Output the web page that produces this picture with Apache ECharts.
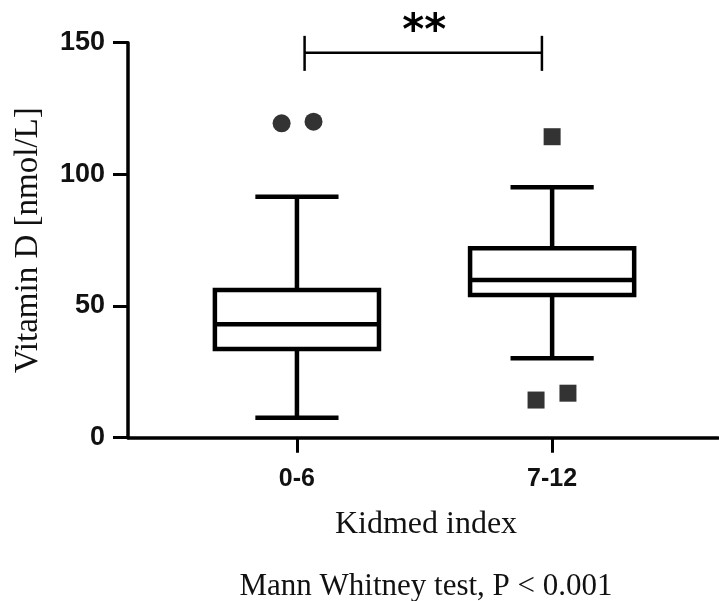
<!DOCTYPE html>
<html>
<head>
<meta charset="utf-8">
<script src="https://cdn.jsdelivr.net/npm/echarts@6/dist/echarts.min.js"></script>
<style>
html,body{margin:0;padding:0;background:#fff;}
#chart{width:719px;height:601px;}
</style>
</head>
<body>
<div id="chart"></div>
<script>
// ---- data ----
const categories = ['0-6', '7-12'];
const positions = [1, 2];
const whiskerLow = [7.6, 30.2];
const q1 = [33.7, 54.2];
const median = [43.1, 59.9];
const q3 = [56.1, 71.9];
const whiskerHigh = [91.5, 95.1];
// outliers: [x position, value]
const outliersGroup1 = [[0.94, 119.4], [1.065, 120.0]];
const outliersGroup2 = [[2.0, 114.3], [1.937, 14.3], [2.062, 16.9]];
const yTicks = [0, 50, 100, 150];
// significance bracket
const bracketX = [1.03, 1.96];
const bracketLevel = 146.2;
const bracketEnds = [139.3, 152.6];
const significance = '**';

const BOX_W = 0.643, CAP_W = 0.326;

const boxData = positions.map((p, i) => [p, whiskerLow[i], q1[i], median[i], q3[i], whiskerHigh[i]]);

const chart = echarts.init(document.getElementById('chart'));
const stroke = '#000';
chart.setOption({
  animation: false,
  backgroundColor: '#fff',
  grid: { left: 128, top: 42.7, width: 590, height: 395, containLabel: false, outerBoundsMode: 'none' },
  xAxis: {
    type: 'value', min: 0.338, max: 2.65,
    splitLine: { show: false },
    axisLine: { onZero: false, lineStyle: { color: stroke, width: 3.5 } },
    axisTick: { customValues: positions, length: 15, lineStyle: { color: stroke, width: 3 } },
    axisLabel: {
      customValues: positions,
      formatter: v => categories[positions.indexOf(v)] || '',
      margin: 29, fontFamily: 'Liberation Sans, Arial, sans-serif', fontWeight: 'bold',
      fontSize: 25, color: '#111'
    }
  },
  yAxis: {
    type: 'value', min: 0, max: 150, interval: 50,
    name: 'Vitamin D [nmol/L]', nameLocation: 'middle', nameGap: 83,
    nameTextStyle: { fontFamily: 'Liberation Serif, Times New Roman, serif', fontSize: 33, color: '#111' },
    splitLine: { show: false },
    axisLine: { show: true, onZero: false, lineStyle: { color: stroke, width: 3.5 } },
    axisTick: { show: true, length: 15, lineStyle: { color: stroke, width: 3 } },
    axisLabel: {
      margin: 23, fontFamily: 'Liberation Sans, Arial, sans-serif', fontWeight: 'bold',
      fontSize: 27, color: '#111'
    }
  },
  series: [
    {
      type: 'custom',
      data: boxData,
      encode: { x: 0, y: [1, 2, 3, 4, 5] },
      renderItem: function (params, api) {
        const x = api.value(0);
        const lo = api.coord([x, api.value(1)]);
        const a = api.coord([x, api.value(2)]);
        const m = api.coord([x, api.value(3)]);
        const b = api.coord([x, api.value(4)]);
        const hi = api.coord([x, api.value(5)]);
        const bw = api.size([BOX_W, 0])[0];
        const cw = api.size([CAP_W, 0])[0];
        const cx = lo[0];
        const st = { stroke: stroke, lineWidth: 4.5, fill: null };
        return {
          type: 'group',
          children: [
            { type: 'rect', shape: { x: cx - bw / 2, y: b[1], width: bw, height: a[1] - b[1] }, style: st },
            { type: 'line', shape: { x1: cx - bw / 2, y1: m[1], x2: cx + bw / 2, y2: m[1] }, style: st },
            { type: 'line', shape: { x1: cx, y1: b[1], x2: cx, y2: hi[1] }, style: st },
            { type: 'line', shape: { x1: cx, y1: a[1], x2: cx, y2: lo[1] }, style: st },
            { type: 'line', shape: { x1: cx - cw / 2, y1: hi[1], x2: cx + cw / 2, y2: hi[1] }, style: st },
            { type: 'line', shape: { x1: cx - cw / 2, y1: lo[1], x2: cx + cw / 2, y2: lo[1] }, style: st }
          ]
        };
      },
      z: 2
    },
    {
      type: 'scatter', data: outliersGroup1, symbol: 'circle', symbolSize: 18,
      itemStyle: { color: '#000' }
    },
    {
      type: 'scatter', data: outliersGroup2, symbol: 'rect', symbolSize: 17,
      itemStyle: { color: '#000' }
    },
    {
      type: 'custom',
      clip: false,
      data: [[bracketX[0], bracketX[1], bracketLevel, bracketEnds[0], bracketEnds[1]]],
      encode: { x: [0, 1], y: [2, 3, 4] },
      renderItem: function (params, api) {
        const p1 = api.coord([api.value(0), api.value(2)]);
        const p2 = api.coord([api.value(1), api.value(2)]);
        const e1 = api.coord([api.value(0), api.value(3)]);
        const e2 = api.coord([api.value(0), api.value(4)]);
        const st = { stroke: stroke, lineWidth: 2.5 };
        return {
          type: 'group',
          children: [
            { type: 'line', shape: { x1: p1[0], y1: p1[1], x2: p2[0], y2: p2[1] }, style: st },
            { type: 'line', shape: { x1: p1[0], y1: e1[1], x2: p1[0], y2: e2[1] }, style: st },
            { type: 'line', shape: { x1: p2[0], y1: e1[1], x2: p2[0], y2: e2[1] }, style: st },
            { type: 'text', x: (p1[0] + p2[0]) / 2 + 1, y: e2[1] - 3,
              style: { text: significance, fill: '#000', align: 'center', verticalAlign: 'middle',
                font: 'bold 42px DejaVu Sans, sans-serif' } }
          ]
        };
      }
    }
  ],
  graphic: [
    { type: 'text', x: 426, y: 525, style: { text: 'Kidmed index', align: 'center', verticalAlign: 'middle',
      font: '32px Liberation Serif, Times New Roman, serif', fill: '#111' } },
    { type: 'text', x: 426, y: 587, style: { text: 'Mann Whitney test, P < 0.001', align: 'center', verticalAlign: 'middle',
      font: '31px Liberation Serif, Times New Roman, serif', fill: '#111' } }
  ]
});
</script>
</body>
</html>
